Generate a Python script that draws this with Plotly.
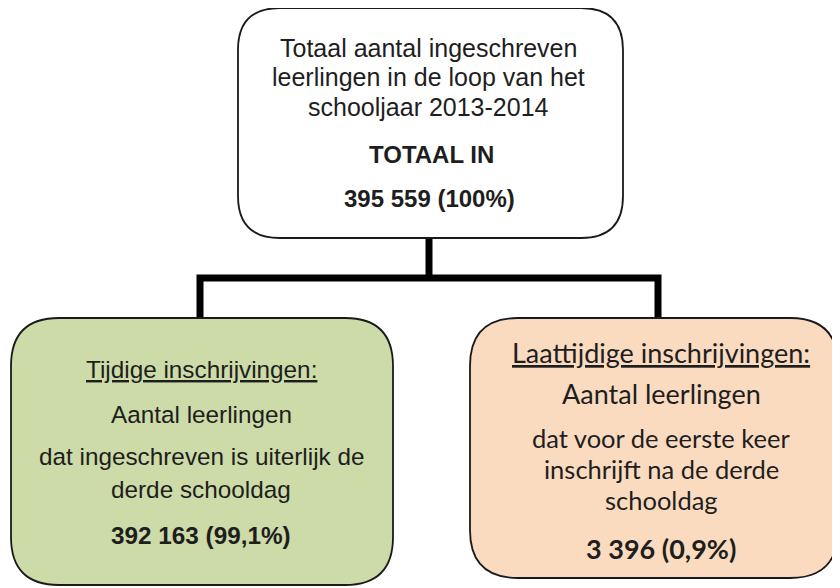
import plotly.graph_objects as go

# ---- data ----
categories = ["TOTAAL IN", "Tijdige inschrijvingen:", "Laattijdige inschrijvingen:"]
counts = [395559, 392163, 3396]
percents = ["100%", "99,1%", "0,9%"]
top_description = ["Totaal aantal ingeschreven", "leerlingen in de loop van het", "schooljaar 2013-2014"]
left_description = ["Aantal leerlingen", "dat ingeschreven is uiterlijk de", "derde schooldag"]
right_description = ["Aantal leerlingen", "dat voor de eerste keer", "inschrijft na de derde", "schooldag"]


def fmt(n):
    return f"{n:,}".replace(",", " ")


def rrect(x0, y0, x1, y1, r):
    return (f"M {x0+r},{y0} L {x1-r},{y0} Q {x1},{y0} {x1},{y0+r} "
            f"L {x1},{y1-r} Q {x1},{y1} {x1-r},{y1} L {x0+r},{y1} "
            f"Q {x0},{y1} {x0},{y1-r} L {x0},{y0+r} Q {x0},{y0} {x0+r},{y0} Z")


fig = go.Figure()
fig.add_trace(go.Scatter(x=[8, 848], y=[8, 596], mode="markers",
                         marker=dict(opacity=0), hoverinfo="skip", showlegend=False))

shapes = []
line_style = dict(color="black", width=7)
shapes.append(dict(type="path", path="M 429,238 L 429,278", line=line_style))
shapes.append(dict(type="path", path="M 200,318 L 200,278 L 658,278 L 658,318", line=line_style))
box_line = dict(color="#1a1a1a", width=1.8)
shapes.append(dict(type="path", path=rrect(238, 8, 623, 238, 42),
                   fillcolor="white", line=box_line))
shapes.append(dict(type="path", path=rrect(11, 318, 393, 585, 48),
                   fillcolor="#cddba8", line=box_line))
shapes.append(dict(type="path", path=rrect(470, 318, 838, 578, 48),
                   fillcolor="#fbdbc0", line=box_line))

ann = []
arial = "Liberation Sans, Arial, sans-serif"
calib = "Lato, Carlito, Calibri, sans-serif"
col = "#1e1e1e"


def add(x, y, text, family, size):
    ann.append(dict(x=x, y=y, xref="x", yref="y", text=text, showarrow=False,
                    font=dict(family=family, size=size, color=col),
                    xanchor="center", yanchor="middle"))


# top box
for t, yy in zip(top_description, [48, 77, 107]):
    add(428, yy, t, arial, 25)
add(431, 154, f"<b>{categories[0]}</b>", arial, 24)
add(429, 198, f"<b>{fmt(counts[0])} ({percents[0]})</b>", arial, 24)

# left box
add(201, 369, f"<u>{categories[1]}</u>", arial, 24.3)
for t, yy in zip(left_description, [414, 456, 489]):
    add(201, yy, t, arial, 24.3)
add(201, 535, f"<b>{fmt(counts[1])} ({percents[1]})</b>", arial, 24.3)

# right box
add(661, 352, f"<u>{categories[2]}</u>", calib, 27)
add(661, 393, right_description[0], calib, 27)
for t, yy in zip(right_description[1:], [438, 469, 500]):
    add(661, yy, t, calib, 25.5)
add(661, 548, f"<b>{fmt(counts[2])} ({percents[2]})</b>", calib, 27)

fig.update_layout(
    width=840, height=588,
    margin=dict(l=0, r=0, t=0, b=0),
    paper_bgcolor="white", plot_bgcolor="white",
    xaxis=dict(range=[8, 848], visible=False, fixedrange=True),
    yaxis=dict(range=[596, 8], visible=False, fixedrange=True),
    shapes=shapes, annotations=ann, showlegend=False,
)
fig.write_html("out.html")
